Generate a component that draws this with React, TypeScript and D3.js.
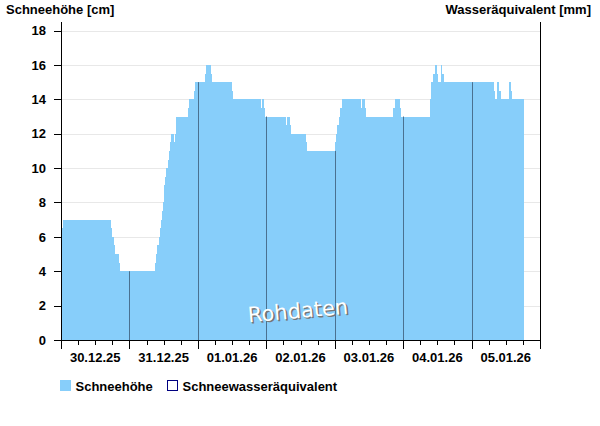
import React from "react";
import * as d3 from "d3";

// Hours since 30.12.25 00:00 at which the snow depth changes, and the new depth (cm)
const changeHours = [
  0, 0.35, 0.7, 17.4, 17.9, 18.6, 18.9, 20.2, 20.7,
  33.0, 33.3, 33.7, 34.2, 34.8, 35.1, 35.5, 35.8, 36.0, 36.2, 36.5, 36.8, 37.5, 37.9, 38.2, 38.6,
  39.6, 39.9, 40.4, 44.6, 44.9, 46.7, 47.1, 50.5, 50.9, 52.6, 53.0, 59.9, 60.35,
  70.2, 70.5, 71.2, 71.6, 78.95, 79.15, 79.5, 79.65, 80.35, 80.7, 86.0, 86.4,
  96.1, 96.5, 96.8, 97.5, 97.9, 98.6, 105.3, 105.6, 106.7, 107.0,
  116.6, 117.2, 118.9, 119.3, 129.5, 129.8, 130.6, 131.0, 132.0, 132.4, 133.2, 133.7, 134.2,
  151.7, 152.3, 152.9, 153.5, 154.4, 157.0, 157.3, 157.7, 158.1, 162.5,
];
const snowDepth = [
  5, 6.5, 7, 6.5, 6, 5.5, 5, 4.5, 4,
  4.5, 5, 5.5, 6, 6.5, 7, 7.5, 8, 8.5, 9, 9.5, 10, 10.5, 11, 11.5, 12,
  11.5, 12, 13, 13.5, 14, 14.5, 15, 15.5, 16, 15.5, 15, 14.5, 14,
  13.5, 14, 13.5, 13, 12.5, 13, 12.5, 13, 12.5, 12, 11.5, 11,
  11.5, 12, 12.5, 13, 13.5, 14, 13.5, 14, 13.5, 13,
  13.5, 14, 13.5, 13, 14, 15, 15.5, 16, 15.5, 15, 16, 15.5, 15,
  14.5, 14, 15, 14.5, 14, 14.5, 15, 14.5, 14, 14,
];
const yTicks = [0, 2, 4, 6, 8, 10, 12, 14, 16, 18];
const startDate = new Date(2025, 11, 30, 0, 0, 0);
const endDate = new Date(2026, 0, 6, 0, 0, 0);
const leftTitle = "Schneehöhe [cm]";
const rightTitle = "Wasseräquivalent [mm]";
const legendLabels = ["Schneehöhe", "Schneewasseräquivalent"];
const watermark = "Rohdaten";

const W = 600, H = 426;
const L = 61, R = 540, T = 22, B = 340;
const FONT = "'Liberation Sans', Arial, sans-serif";

export default function App() {
  const toDate = (h: number) => new Date(startDate.getTime() + h * 3600e3);
  const x = d3.scaleTime().domain([startDate, endDate]).range([L, R]);
  const y = d3.scaleLinear().domain([0, 18.5]).range([B, T]);

  const pts = changeHours.map((h, i) => ({ t: toDate(h), v: snowDepth[i] }));
  const area = d3
    .area<{ t: Date; v: number }>()
    .x((d) => x(d.t))
    .y0(y(0))
    .y1((d) => y(d.v))
    .curve(d3.curveStepAfter);

  const valueAt = (t: Date) => {
    const i = d3.bisectRight(pts.map((p) => +p.t), +t) - 1;
    return i >= 0 && i < pts.length - 1 ? pts[i].v : 0;
  };

  const days = d3.timeDay.range(startDate, d3.timeDay.offset(endDate, 1));
  const minor = d3.timeHour.every(6)!.range(startDate, endDate).filter((d) => d.getHours() !== 0);
  const innerDays = days.filter((d) => d > startDate && d < endDate);
  const fmt = d3.timeFormat("%d.%m.%y");

  return (
    <svg width={W} height={H} style={{ position: "absolute", left: 0, top: 0, background: "#fff" }}>
      {/* grid */}
      {yTicks.filter((v) => v > 0).map((v) => (
        <line key={v} x1={L} x2={R} y1={Math.round(y(v)) + 0.5} y2={Math.round(y(v)) + 0.5} stroke="#e8e8e8" strokeWidth={1} />
      ))}
      {/* snow depth */}
      <path d={area(pts) || ""} fill="#87cefa" shapeRendering="crispEdges" />
      {/* day separators on the data */}
      {innerDays.map((d) => {
        const v = valueAt(d);
        const xx = Math.round(x(d)) + 0.5;
        return <line key={+d} x1={xx} x2={xx} y1={y(v)} y2={B} stroke="#4a7190" strokeWidth={1} />;
      })}
      {/* watermark */}
      <g transform="rotate(-5, 298, 312)" fontFamily="'DejaVu Sans', Verdana, sans-serif" fontSize={21} textAnchor="middle">
        <text x={299.5} y={319.5} fill="#777">{watermark}</text>
        <text x={298} y={318} fill="#fff">{watermark}</text>
      </g>
      {/* axes */}
      <line x1={L + 0.5} x2={L + 0.5} y1={T} y2={B + 1} stroke="#000" />
      <line x1={R + 0.5} x2={R + 0.5} y1={T} y2={B + 1} stroke="#000" />
      <line x1={L} x2={R + 1} y1={B + 0.5} y2={B + 0.5} stroke="#000" />
      {yTicks.map((v) => (
        <g key={v}>
          <line x1={54} x2={L} y1={Math.round(y(v)) + 0.5} y2={Math.round(y(v)) + 0.5} stroke="#000" />
          <text x={46} y={y(v) + 4.7} textAnchor="end" fontFamily={FONT} fontWeight="bold" fontSize={13} fill="#000">{v}</text>
        </g>
      ))}
      {days.map((d) => {
        const xx = Math.round(x(d)) + 0.5;
        return <line key={+d} x1={xx} x2={xx} y1={B} y2={B + 9} stroke="#000" />;
      })}
      {minor.map((d) => {
        const xx = Math.round(x(d)) + 0.5;
        return <line key={+d} x1={xx} x2={xx} y1={B} y2={B + 5} stroke="#000" />;
      })}
      {days.filter((d) => d < endDate).map((d) => (
        <text key={+d} x={x(d3.timeHour.offset(d, 12))} y={361.5} textAnchor="middle" fontFamily={FONT} fontWeight="bold" fontSize={13} fill="#000">
          {fmt(d)}
        </text>
      ))}
      {/* titles */}
      <text x={6} y={13.5} fontFamily={FONT} fontWeight="bold" fontSize={13} fill="#000">{leftTitle}</text>
      <text x={591} y={13.5} textAnchor="end" fontFamily={FONT} fontWeight="bold" fontSize={13} fill="#000">{rightTitle}</text>
      {/* legend */}
      <rect x={60} y={380} width={11} height={11} fill="#87cefa" />
      <text x={75.5} y={390.5} fontFamily={FONT} fontWeight="bold" fontSize={13} fill="#000">{legendLabels[0]}</text>
      <rect x={167.5} y={380.5} width={10} height={10} fill="#fff" stroke="#000080" />
      <text x={182.5} y={390.5} fontFamily={FONT} fontWeight="bold" fontSize={13} fill="#000">{legendLabels[1]}</text>
    </svg>
  );
}
